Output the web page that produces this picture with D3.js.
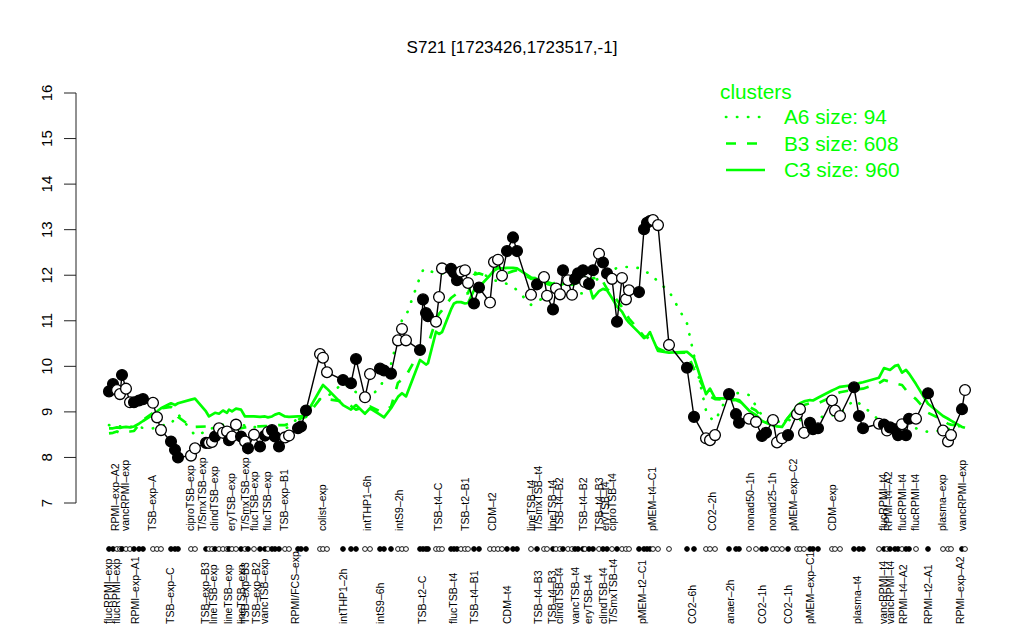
<!DOCTYPE html>
<html><head><meta charset="utf-8">
<script src="https://cdn.jsdelivr.net/npm/d3@7/dist/d3.min.js"></script>
<style>body{margin:0;background:#fff}svg{display:block;font-family:"Liberation Sans",Arial,sans-serif}</style>
</head><body><svg id="c" width="1024" height="640"></svg>
<script>
const title = "S721 [1723426,1723517,-1]";
const samplePos = [2.25,3.25,4.25,5,5.5,6.5,7.5,8.5,9.75,10.75,
 13.25,14.25,15.25,17.75,18.75,19.5,22.75,23.75,
 26.5,27.25,28,28.75,29.75,30.75,31.75,32.25,33,34,35.25,36.25,37,38.5,40,41.25,42,43,43.75,44.75,46.25,47.25,49.5,50.25,51.5,
 55,55.75,56.75,60.75,62.75,64,66.25,67.5,70,71,72.75,74.5,75.5,76.5,
 80,80.75,81.5,82,84,84.75,85.5,87.75,88.5,89.25,90.25,91.25,92,93.5,94.75,
 97.5,98.5,99.5,100.5,101.75,103.25,104.25,107.75,
 109.25,111,111.75,113.25,114,115,115.75,117,118,118.75,119.5,120.75,121.25,122.25,123.25,124.75,125.75,126.75,128,129.25,130.5,131.5,132.25,
 134.75,136,136.75,137.5,138.25,139.5,142.25,146.75,148.5,151.5,152.5,153.75,157.25,159,159.75,162.25,164,
 165.5,166.5,168.25,169.25,170.5,172,174.25,175,176,177.5,178.25,179.5,183,183.75,185,188.5,189.75,190.75,
 194.75,196,196.75,197.5,198.75,199.5,200.5,201.5,202.25,204,207,210.75,212,212.75,215.5,216.25];
const expr = [9.45,9.61,9.48,9.39,9.81,9.51,9.21,9.21,9.25,9.28,
 9.20,8.88,8.60,8.35,8.17,8.00,8.04,8.20,
 8.32,8.32,8.34,8.46,8.64,8.54,8.57,8.38,8.46,8.72,8.46,8.35,8.20,8.50,8.24,8.48,8.56,8.60,8.46,8.24,8.44,8.48,8.64,8.68,9.03,
 10.27,10.19,9.87,9.70,9.63,10.16,9.32,9.83,9.95,9.91,9.84,10.57,10.82,10.57,
 10.36,11.47,11.17,11.10,10.98,11.52,12.15,12.14,12.06,11.89,12.08,12.11,11.83,11.38,11.73,
 11.40,12.29,12.34,11.99,12.53,12.83,12.53,11.57,
 11.80,11.96,11.55,11.25,11.71,11.58,12.11,11.89,11.57,11.92,12.04,12.11,11.85,11.81,12.11,12.47,12.28,12.04,11.92,10.98,11.94,11.47,11.67,
 11.63,13.01,13.15,13.19,13.21,13.10,10.47,9.97,8.89,8.42,8.38,8.49,9.39,8.95,8.76,8.85,8.78,
 8.47,8.54,8.82,8.33,8.42,8.49,8.95,9.06,8.54,8.76,8.62,8.64,9.25,9.03,8.91,9.54,8.91,8.64,
 8.74,8.72,8.59,8.66,8.62,8.49,8.73,8.49,8.85,8.85,9.41,8.59,8.35,8.49,9.06,9.48];
const filled = [1,1,0,0,1,0,0,1,1,1,
 0,0,0,1,1,1,0,0,
 1,0,0,1,0,0,0,1,0,0,1,0,1,0,1,1,0,1,1,1,0,0,1,1,1,
 0,0,0,1,1,1,0,0,1,1,1,0,0,0,
 1,1,1,1,0,0,0,1,1,1,0,0,0,1,1,
 0,0,0,0,1,1,1,0,
 1,0,0,1,0,0,1,0,0,1,1,1,0,1,1,0,1,1,0,1,0,0,0,
 1,1,1,1,0,0,0,1,1,0,0,0,1,1,1,0,0,
 1,1,0,0,0,1,0,0,0,1,1,1,0,0,0,1,1,1,
 0,1,0,1,1,1,0,1,1,0,1,0,0,0,1,0];
const clusterA6 = [8.71,8.70,8.69,8.68,8.68,8.67,8.67,8.67,8.66,8.65,
 8.64,8.67,8.70,8.73,8.87,8.95,8.60,8.48,
 8.57,8.62,8.64,8.66,8.68,8.72,8.74,8.76,8.75,8.74,8.72,8.70,8.68,8.67,8.64,8.62,8.60,8.62,8.64,8.62,8.64,8.67,8.87,8.97,9.05,
 9.28,9.31,9.33,9.63,9.53,9.43,9.36,9.34,9.53,9.73,10.04,10.65,11.02,11.10,
 11.96,12.11,12.15,12.11,12.04,12.03,12.04,12.06,12.06,12.06,12.06,12.06,12.06,12.06,12.04,
 11.96,11.89,11.87,11.85,11.81,11.75,11.67,11.35,
 11.43,11.50,11.55,11.65,11.67,11.65,11.63,11.61,11.60,11.60,11.60,11.60,11.60,11.70,11.80,11.96,12.01,12.06,12.11,12.16,12.18,12.18,12.18,
 12.16,12.11,12.06,12.04,11.98,11.85,11.65,10.94,10.24,9.03,8.87,8.80,9.41,9.41,9.41,9.37,9.13,
 8.92,8.82,8.76,8.78,8.80,8.82,8.82,8.82,8.82,8.82,8.84,8.88,8.92,8.94,8.97,9.26,9.19,9.13,
 8.82,8.70,8.67,8.67,8.67,8.67,8.67,8.67,8.67,8.64,8.56,8.60,8.62,8.64,8.70,8.71];
const clusterB3 = [8.53,8.54,8.57,8.54,8.56,8.57,8.57,8.58,8.72,8.82,
 8.98,9.03,9.08,9.11,9.03,8.89,8.68,8.67,
 8.68,8.70,8.71,8.72,8.70,8.68,8.64,8.62,8.60,8.62,8.64,8.66,8.67,8.68,8.68,8.69,8.69,8.70,8.70,8.71,8.71,8.74,8.82,8.86,8.89,
 9.28,9.30,9.28,9.23,9.13,9.05,9.11,9.12,9.01,9.03,9.11,9.64,9.71,9.79,
 10.34,10.43,10.46,10.47,11.02,11.15,11.23,11.50,11.55,11.60,11.60,11.60,11.60,12.01,12.04,
 11.96,12.11,12.18,12.11,12.04,12.09,12.11,11.92,
 11.95,11.90,11.85,11.81,11.85,11.89,11.91,11.93,11.95,11.95,11.93,11.90,11.89,11.91,11.93,11.97,11.86,11.70,11.60,11.45,11.30,11.15,11.05,
 10.79,10.66,10.64,10.59,10.49,10.39,10.29,10.30,9.94,9.43,9.34,9.28,9.26,9.26,9.23,9.11,9.03,
 8.87,8.78,8.74,8.72,8.71,8.87,9.08,9.13,9.15,9.19,9.19,9.19,9.33,9.38,9.43,9.49,9.50,9.51,
 9.63,9.70,9.68,9.66,9.63,9.61,9.59,9.48,9.41,9.28,8.98,8.82,8.74,8.72,8.68,8.67];
const clusterC3 = [8.64,8.64,8.66,8.65,8.66,8.67,8.66,8.68,8.74,8.80,
 8.94,9.01,9.08,9.19,9.15,9.19,9.27,9.29,
 9.01,8.90,8.94,8.98,8.96,9.03,8.98,9.05,9.01,9.07,9.05,8.90,8.90,8.90,8.89,8.90,8.88,8.90,8.94,8.97,8.90,8.89,8.90,8.90,8.94,
 9.48,9.59,9.51,9.15,9.05,9.15,8.96,9.08,8.94,8.88,9.08,9.33,9.41,9.34,
 10.14,10.09,10.04,10.07,10.76,10.71,10.75,11.25,11.38,11.41,11.41,11.38,11.39,11.67,11.74,
 12.00,12.10,12.15,12.15,12.16,12.16,12.15,11.95,
 11.92,11.85,11.81,11.77,11.74,11.77,11.81,11.83,11.79,11.81,11.85,11.91,11.96,11.80,11.49,11.65,11.70,11.67,11.50,11.31,11.20,11.04,10.96,
 10.74,10.62,10.66,10.75,10.59,10.34,10.30,10.32,10.19,9.39,9.51,9.30,9.29,9.27,9.26,9.03,8.93,
 8.80,8.76,8.70,8.68,8.67,8.87,9.13,9.19,9.23,9.26,9.25,9.31,9.47,9.50,9.55,9.59,9.63,9.65,
 9.75,9.96,9.94,9.92,10.01,10.03,9.86,9.92,9.84,9.61,9.18,8.91,8.85,8.81,8.67,8.65];
const topLabels = ["RPMI\u2013exp\u2013A2","vancRPMI\u2013exp","TSB\u2013exp\u2013A","ciproTSB\u2013exp","T/SmxTSB\u2013exp","clindTSB\u2013exp","eryTSB\u2013exp","T/SmxTSB\u2013exp","flucTSB\u2013exp","flucTSB\u2013exp","TSB\u2013exp\u2013B1","colist\u2013exp","intTHP1\u20136h","intS9\u20132h","TSB\u2013t4\u2013C","TSB\u2013t2\u2013B1","CDM\u2013t2","lineTSB\u2013t4","T/SmxTSB\u2013t4","lineTSB\u2013t4","TSB\u2013t4\u2013B2","TSB\u2013t4\u2013B2","TSB\u2013t4\u2013B3","eryTSB\u2013t4","ciproTSB\u2013t4","pMEM\u2013t4\u2013C1","CO2\u20132h","nonad50\u20131h","nonad25\u20131h","pMEM\u2013exp\u2013C2","CDM\u2013exp","flucRPMI\u2013t4","RPMI\u2013t4\u2013A2","flucRPMI\u2013t4","flucRPMI\u2013t4","plasma\u2013exp","vancRPMI\u2013exp"];
const topLabelPos = [3.9,6.25,13,22.5,25.5,28.5,32.75,36.25,38.5,41.75,46,55.5,66.75,74.75,84.5,91.25,98,107.75,109.5,113,114.75,120.75,124.75,126.25,128,138,153,162.5,168,173.25,183,195.75,197,200.5,203.75,210.5,215.5];
const bottomLabels = ["flucRPMI\u2013exp","flucRPMI\u2013exp","RPMI\u2013exp\u2013A1","TSB\u2013exp\u2013C","TSB\u2013exp\u2013B3","lineTSB\u2013exp","lineTSB\u2013exp","lineTSB\u2013exp","TSB\u2013exp\u2013B3","TSB\u2013exp\u2013B2","vancTSB\u2013exp","RPMI/FCS\u2013exp","intTHP1\u20132h","intS9\u20136h","TSB\u2013t2\u2013C","flucTSB\u2013t4","TSB\u2013t4\u2013B1","CDM\u2013t4","TSB\u2013t4\u2013B3","TSB\u2013t4\u2013B3","clindTSB\u2013t4","vancTSB\u2013t4","eryTSB\u2013t4","clindTSB\u2013t4","T/SmxTSB\u2013t4","pMEM\u2013t2\u2013C1","CO2\u20136h","anaer\u20132h","CO2\u20131h","CO2\u20131h","pMEM\u2013exp\u2013C1","plasma\u2013t4","vancRPMI\u2013t4","vancRPMI\u2013t4","RPMI\u2013t4\u2013A2","RPMI\u2013t2\u2013A1","RPMI\u2013exp\u2013A2"];
const bottomLabelPos = [2,4.2,8.75,17.5,26.25,28.25,32,35.4,36.25,39.2,41.1,48.75,60.8,70,80.5,88.25,93.5,101.75,109.5,113,114.75,118.75,122,125.75,128.25,135.5,148,157.5,165.5,172,177.5,189.25,195.75,197.5,200.75,207,215];
const yTicks = [7,8,9,10,11,12,13,14,15,16];
const legendTitle = "clusters";
const legendNames = ["A6 size: 94","B3 size: 608","C3 size: 960"];

const GREEN = "#00ff00";
const svg = d3.select("#c");
const x = d3.scaleLinear().domain([0,220]).range([100,980]);
const y = d3.scaleLinear().domain([7,16]).range([503,93]);

// title
svg.append("text").attr("x",512).attr("y",53).attr("text-anchor","middle")
  .attr("font-size",17).text(title);

// y axis
const yAxis = d3.axisLeft(y).tickValues(yTicks).tickSize(12).tickFormat(d3.format("d"));
const ga = svg.append("g").attr("transform","translate(76,0)").call(yAxis);
ga.select(".domain").attr("stroke","#222").attr("d","M0,"+y(7)+"V"+y(16));
ga.selectAll(".tick").attr("transform",null);
ga.selectAll(".tick line").attr("stroke","#222").attr("y1",d=>y(d)).attr("y2",d=>y(d));
ga.selectAll(".tick text").attr("font-size",15).attr("fill","#000")
  .attr("font-family","Liberation Sans, Arial, sans-serif")
  .attr("x",0).attr("y",0).attr("dy",null)
  .attr("text-anchor","middle").attr("dominant-baseline","central")
  .attr("transform",d=>"translate(-30,"+y(d)+") rotate(-90)");

// cluster lines
const idx = d3.range(samplePos.length);
const clusters = [
  {vals:clusterA6, dash:"0.3,10.7", cap:"round"},
  {vals:clusterB3, dash:"10,11", cap:"butt"},
  {vals:clusterC3, dash:null, cap:"butt"}
];
clusters.forEach(c=>{
  const line = d3.line().x(i=>x(samplePos[i])).y(i=>y(c.vals[i]));
  svg.append("path").attr("d",line(idx)).attr("fill","none").attr("stroke",GREEN)
    .attr("stroke-width",2.7).attr("stroke-dasharray",c.dash).attr("stroke-linecap",c.cap)
    .attr("stroke-linejoin","round");
});

// expression line + points
const eline = d3.line().x(i=>x(samplePos[i])).y(i=>y(expr[i]));
svg.append("path").attr("d",eline(idx)).attr("fill","none").attr("stroke","#000").attr("stroke-width",1.4);
svg.append("g").selectAll("circle").data(idx).join("circle")
  .attr("cx",i=>x(samplePos[i])).attr("cy",i=>y(expr[i])).attr("r",5.4)
  .attr("fill",i=>filled[i]?"#000":"#fff").attr("stroke","#000").attr("stroke-width",1.3);

// sample markers row
svg.append("g").selectAll("circle").data(idx).join("circle")
  .attr("cx",i=>x(samplePos[i])).attr("cy",549).attr("r",2.4)
  .attr("fill",i=>filled[i]?"#000":"#fff").attr("stroke","#000").attr("stroke-width",0.9);

// labels
svg.append("g").selectAll("text").data(topLabels).join("text")
  .attr("transform",(d,i)=>"translate("+(x(topLabelPos[i])+3.5)+",531) rotate(-90)")
  .attr("font-size",10.5).attr("text-anchor","start").text(d=>d);
svg.append("g").selectAll("text").data(bottomLabels).join("text")
  .attr("transform",(d,i)=>"translate("+(x(bottomLabelPos[i])+3.5)+",624) rotate(-90)")
  .attr("font-size",10.5).attr("text-anchor","start").text(d=>d);

// legend
const lg = svg.append("g");
lg.append("text").attr("x",720).attr("y",99).attr("fill",GREEN).attr("font-size",20.8).text(legendTitle);
legendNames.forEach((n,i)=>{
  const yy = 117 + i*26.5;
  lg.append("line").attr("x1",726).attr("x2",i===2?765:760).attr("y1",yy).attr("y2",yy)
    .attr("stroke",GREEN).attr("stroke-width",2.7)
    .attr("stroke-dasharray",clusters[i].dash).attr("stroke-linecap",clusters[i].cap);
  lg.append("text").attr("x",784).attr("y",yy+7).attr("fill",GREEN).attr("font-size",20.8).text(n);
});
</script></body></html>
